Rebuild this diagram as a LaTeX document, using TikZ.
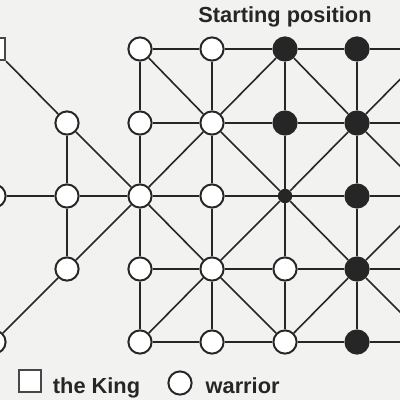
\documentclass[tikz,border=0pt]{standalone}
\usepackage{fontspec}
\setsansfont{Liberation Sans}
\usepackage{tikz}
\usetikzlibrary{positioning}
\definecolor{paper}{RGB}{242,242,240}
\definecolor{ink}{RGB}{38,38,38}

\begin{document}
\begin{tikzpicture}[x=0.025cm, y=-0.025cm,
    warrior/.style={circle, draw=ink, fill=white, line width=1.4pt, minimum size=0.58cm, inner sep=0pt},
    foe/.style={circle, fill=ink, minimum size=0.63cm, inner sep=0pt},
    hub/.style={circle, fill=ink, minimum size=0.36cm, inner sep=0pt},
    king/.style={rectangle, draw=ink!85, fill=white, line width=1.5pt, minimum size=0.56cm, inner sep=0pt},
    link/.style={draw=ink, line width=1.15pt},
    headline/.style={font=\sffamily\bfseries\fontsize{15.5}{18}\selectfont, text=ink, inner sep=0pt},
    legendtext/.style={font=\sffamily\bfseries\fontsize{15.5}{18}\selectfont, text=ink, inner sep=0pt},
]
\clip (0,0) rectangle (400,400);
\fill[paper] (0,0) rectangle (400,400);

% left arm
\node[king] (a0) at (-6,49) {};
\node[warrior] (a2) at (-6,196) {};
\node[warrior] (a4) at (-6,342) {};
\node[warrior] (b1) at (67,123) {};
\node[warrior] (b2) at (67,196) {};
\node[warrior] (b3) at (67,269) {};

% board
\node[warrior] (c0) at (140,49) {};
\node[warrior] (d0) at (212,49) {};
\node[foe] (e0) at (285,49) {};
\node[foe] (f0) at (357,49) {};

\node[warrior] (c1) at (140,123) {};
\node[warrior] (d1) at (212,123) {};
\node[foe] (e1) at (285,123) {};
\node[foe] (f1) at (357,123) {};

\node[warrior] (c2) at (140,196) {};
\node[warrior] (d2) at (212,196) {};
\node[hub] (e2) at (285,196) {};
\node[foe] (f2) at (357,196) {};

\node[warrior] (c3) at (140,269) {};
\node[warrior] (d3) at (212,269) {};
\node[warrior] (e3) at (285,269) {};
\node[foe] (f3) at (357,269) {};

\node[warrior] (c4) at (140,342) {};
\node[warrior] (d4) at (212,342) {};
\node[warrior] (e4) at (285,342) {};
\node[foe] (f4) at (357,342) {};

% lines run on past the right edge
\coordinate (g0) at (430,49);
\coordinate (g1) at (430,123);
\coordinate (g2) at (430,196);
\coordinate (g3) at (430,269);
\coordinate (g4) at (430,342);

% rows
\draw[link] (c0) -- (d0) -- (e0) -- (f0) -- (g0);
\draw[link] (c1) -- (d1) -- (e1) -- (f1) -- (g1);
\draw[link] (a2) -- (b2) -- (c2) -- (d2) -- (e2) -- (f2) -- (g2);
\draw[link] (c3) -- (d3) -- (e3) -- (f3) -- (g3);
\draw[link] (c4) -- (d4) -- (e4) -- (f4) -- (g4);

% columns
\draw[link] (b1) -- (b2) -- (b3);
\draw[link] (c0) -- (c1) -- (c2) -- (c3) -- (c4);
\draw[link] (d0) -- (d1) -- (d2) -- (d3) -- (d4);
\draw[link] (e0) -- (e1) -- (e2) -- (e3) -- (e4);
\draw[link] (f0) -- (f1) -- (f2) -- (f3) -- (f4);

% diagonals
\draw[link] (a0) -- (b1) -- (c2) -- (d3) -- (e4);
\draw[link] (c0) -- (d1) -- (e2) -- (f3) -- (g4);
\draw[link] (e0) -- (f1) -- (g2);
\draw[link] (a4) -- (b3) -- (c2) -- (d1) -- (e0);
\draw[link] (c4) -- (d3) -- (e2) -- (f1) -- (g0);
\draw[link] (e4) -- (f3) -- (g2);

\node[headline, anchor=base] (title) at (285,23) {Starting position};

% legend
\node[king] (kingkey) at (30,381) {};
\node[legendtext, right=0.26cm of kingkey.south east, anchor=base west] (kingtext) {the King};
\node[warrior] (warriorkey) at (180,383) {};
\node[legendtext, anchor=base west] (warriortext) at ([xshift=0.32cm]warriorkey.east |- kingtext.base) {warrior};

\end{tikzpicture}
\end{document}
